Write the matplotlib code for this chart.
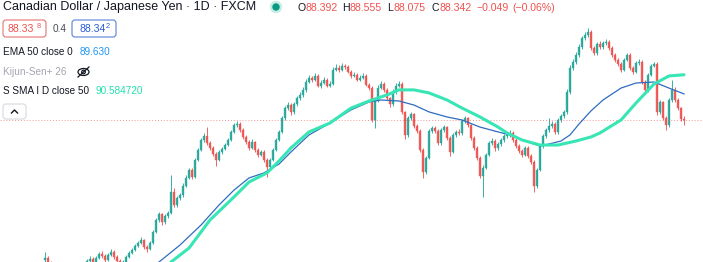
import numpy as np
import matplotlib.pyplot as plt
from matplotlib import font_manager
from matplotlib.patches import FancyBboxPatch, Ellipse, Circle

# daily CAD/JPY candles, oldest first
closes = [81.51, 81.26, 81.01, 80.82, 80.67, 80.52, 80.62, 80.47, 80.32, 80.42,
          80.57, 80.72, 80.92, 81.11, 81.36, 81.46, 81.31, 81.51, 81.71, 81.61,
          81.41, 81.66, 81.81, 81.56, 81.36, 81.11, 81.31, 81.56, 81.76, 81.91,
          82.10, 82.25, 82.40, 82.05, 81.95, 82.25, 82.80, 83.39, 83.69, 83.29,
          83.59, 83.74, 84.78, 84.13, 84.48, 84.63, 85.07, 85.47, 85.87, 85.52,
          86.36, 86.86, 87.35, 87.55, 87.20, 86.95, 86.66, 86.36, 86.76, 86.91,
          87.10, 87.35, 87.75, 88.09, 88.14, 87.85, 87.50, 87.25, 86.95, 87.25,
          86.86, 86.61, 86.76, 86.36, 86.01, 86.36, 86.86, 87.35, 87.75, 88.44,
          88.93, 89.08, 88.74, 89.13, 89.43, 89.58, 89.83, 90.22, 90.42, 90.32,
          90.52, 90.02, 90.17, 90.32, 90.02, 90.12, 90.82, 90.92, 90.82, 91.01,
          90.96, 90.72, 90.52, 90.57, 90.32, 90.42, 90.52, 90.07, 89.92, 88.34,
          89.33, 89.92, 90.12, 89.83, 89.43, 89.13, 89.73, 90.02, 90.12, 88.74,
          87.60, 88.44, 88.64, 88.04, 87.80, 86.86, 85.77, 86.46, 87.80, 87.94,
          87.80, 87.20, 87.85, 87.99, 87.45, 86.76, 87.60, 87.75, 87.70, 88.29,
          88.44, 88.09, 87.45, 86.95, 86.46, 85.57, 85.96, 86.61, 87.20, 87.30,
          86.95, 87.15, 87.35, 87.55, 87.60, 87.70, 87.35, 87.05, 86.81, 86.61,
          86.95, 86.56, 86.26, 85.07, 85.87, 87.05, 87.55, 87.85, 88.04, 88.14,
          87.75, 88.34, 88.54, 88.74, 89.73, 90.92, 91.21, 91.56, 91.95, 92.40,
          92.55, 92.70, 91.90, 91.66, 92.10, 91.95, 92.15, 92.20, 91.90, 91.56,
          91.31, 91.11, 90.82, 91.31, 91.56, 90.92, 90.72, 91.16, 91.21, 90.22,
          89.83, 90.57, 91.01, 91.11, 88.74, 89.23, 88.44, 88.09, 89.33, 89.83,
          89.33, 88.93, 88.392, 88.342]
opens = [81.40] + closes[:-1]
highs = [81.80, 81.60, 81.35, 81.10, 80.90, 80.75, 80.70, 80.70, 80.55, 80.50,
         80.65, 80.80, 81.00, 81.20, 81.45, 81.60, 81.55, 81.60, 81.80, 81.85,
         81.70, 81.75, 81.95, 81.90, 81.65, 81.45, 81.40, 81.65, 81.85, 82.00,
         82.20, 82.35, 82.55, 82.45, 82.15, 82.35, 82.90, 83.50, 83.80, 83.75,
         83.70, 83.85, 85.60, 84.98, 84.60, 84.75, 85.20, 85.60, 85.95, 85.95,
         86.45, 86.95, 87.45, 87.70, 88.00, 87.30, 87.05, 86.75, 86.85, 87.00,
         87.20, 87.45, 87.85, 88.20, 88.29, 88.25, 87.95, 87.60, 87.35, 87.40,
         87.30, 86.95, 86.85, 86.85, 86.45, 86.45, 86.95, 87.45, 87.85, 88.55,
         89.05, 89.25, 89.20, 89.25, 89.55, 89.75, 89.95, 90.35, 90.55, 90.50,
         90.65, 90.60, 90.30, 90.45, 90.40, 90.25, 90.95, 91.10, 91.05, 91.15,
         91.12, 91.05, 90.80, 90.70, 90.65, 90.55, 90.65, 90.60, 90.15, 90.00,
         89.45, 90.05, 90.25, 90.20, 89.90, 89.50, 89.85, 90.15, 90.25, 90.20,
         88.80, 88.55, 88.75, 88.70, 88.15, 87.90, 86.95, 86.55, 87.90, 88.05,
         88.05, 87.90, 87.95, 88.10, 88.05, 87.55, 87.70, 87.85, 87.90, 88.40,
         88.55, 88.50, 88.15, 87.55, 87.05, 86.55, 86.10, 86.70, 87.30, 87.45,
         87.40, 87.25, 87.45, 87.65, 87.75, 87.85, 87.80, 87.45, 87.15, 86.90,
         87.05, 87.05, 86.65, 86.35, 85.95, 87.15, 87.65, 87.95, 88.45, 88.30,
         88.25, 88.45, 88.65, 88.85, 89.85, 91.05, 91.35, 91.70, 92.10, 92.50,
         92.70, 92.90, 92.80, 92.00, 92.20, 92.25, 92.25, 92.35, 92.30, 92.00,
         91.65, 91.40, 91.20, 91.40, 91.65, 91.65, 91.00, 91.25, 91.35, 91.30,
         90.30, 90.65, 91.10, 91.20, 91.20, 89.35, 89.30, 88.55, 89.45, 90.32,
         89.95, 89.45, 89.00, 88.555]
lows = [81.30, 81.15, 80.90, 80.70, 80.55, 80.40, 80.45, 80.35, 80.20, 80.25,
        80.35, 80.50, 80.65, 80.85, 81.05, 81.30, 81.20, 81.25, 81.45, 81.50,
        81.30, 81.35, 81.60, 81.45, 81.25, 81.00, 81.05, 81.25, 81.50, 81.70,
        81.85, 82.05, 82.20, 81.95, 81.80, 81.90, 82.20, 82.75, 83.30, 83.15,
        83.20, 83.50, 83.70, 84.05, 84.05, 84.40, 84.55, 85.00, 85.40, 85.40,
        85.45, 86.30, 86.80, 87.25, 87.10, 86.85, 86.55, 86.06, 86.30, 86.65,
        86.85, 87.05, 87.30, 87.70, 88.00, 87.75, 87.40, 87.15, 86.85, 86.90,
        86.75, 86.50, 86.55, 86.25, 85.52, 85.90, 86.30, 86.80, 87.30, 87.70,
        88.35, 88.85, 88.60, 88.65, 89.05, 89.35, 89.50, 89.75, 90.15, 90.20,
        90.25, 89.95, 89.90, 90.10, 89.95, 89.95, 90.05, 90.75, 90.70, 90.75,
        90.85, 90.65, 90.40, 90.45, 90.25, 90.25, 90.35, 90.00, 89.80, 88.24,
        87.95, 89.25, 89.85, 89.75, 89.35, 88.98, 89.05, 89.65, 89.95, 88.65,
        87.40, 87.50, 88.35, 87.95, 87.70, 86.75, 85.47, 85.65, 86.40, 87.70,
        87.70, 87.10, 87.10, 87.75, 87.35, 86.56, 86.70, 87.50, 87.60, 87.60,
        88.20, 88.00, 87.35, 86.85, 86.35, 85.47, 84.53, 85.90, 86.55, 87.10,
        86.80, 86.85, 87.05, 87.25, 87.45, 87.50, 87.25, 86.95, 86.70, 86.50,
        86.55, 86.45, 86.15, 84.78, 84.95, 85.80, 86.95, 87.45, 87.75, 87.95,
        87.65, 87.65, 88.25, 88.45, 88.65, 89.65, 90.80, 91.10, 91.45, 91.85,
        92.30, 92.45, 91.80, 91.55, 91.55, 91.85, 91.85, 92.05, 91.80, 91.45,
        91.20, 91.00, 90.70, 90.75, 91.25, 90.80, 90.60, 90.65, 91.05, 90.10,
        89.73, 89.75, 90.50, 90.95, 88.60, 88.65, 88.35, 87.85, 88.00, 89.25,
        89.25, 88.85, 88.30, 88.075]

# moving averages (bar index, price)
ema_idx = [38, 45, 52, 58, 63, 68, 73, 78, 82, 88, 95, 102, 108, 112, 118, 123,
           128, 134, 139, 145, 151, 155, 159, 165, 168, 172, 175, 178, 182, 186,
           192, 197, 203, 208, 213]
ema_vals = [81.31, 82.15, 83.14, 84.13, 84.87, 85.47, 85.72, 86.16, 86.76, 87.60,
            88.19, 88.84, 89.23, 89.33, 89.28, 89.08, 88.74, 88.49, 88.34, 87.99,
            87.75, 87.60, 87.35, 87.05, 87.15, 87.30, 87.60, 88.14, 88.79, 89.33,
            89.92, 90.17, 90.22, 89.92, 89.63]
sma_idx = [42, 48, 55, 63, 68, 74, 78, 82, 88, 95, 102, 108, 114, 118, 123, 128,
           134, 139, 145, 151, 154, 159, 165, 171, 174, 177, 182, 185, 192, 197,
           203, 208, 213]
sma_vals = [81.31, 82.00, 83.39, 84.53, 85.27, 85.72, 86.31, 86.96, 87.75, 88.19,
            88.93, 89.28, 89.58, 89.83, 89.83, 89.68, 89.33, 88.93, 88.49, 87.99,
            87.70, 87.35, 87.10, 87.10, 87.20, 87.30, 87.50, 87.70, 88.34, 89.18,
            90.12, 90.52, 90.58]

last_close = 88.342
up_col = '#26a69a'
dn_col = '#ef5350'

names = {f.name for f in font_manager.fontManager.ttflist}
fam = 'Liberation Sans Narrow' if 'Liberation Sans Narrow' in names else 'Liberation Sans'
scale = 1.0 if fam == 'Liberation Sans Narrow' else 0.82

fig = plt.figure(figsize=(7.03, 2.62), dpi=100)
ax = fig.add_axes([0, 0, 1, 1])
ax.set_xlim(-15, 219.33)
ax.set_ylim(81.31, 94.28)
ax.axis('off')

o = np.array(opens)
c = np.array(closes)
x = np.arange(len(c))
cols = np.where(c >= o, up_col, dn_col)
ax.vlines(x, lows, highs, colors=cols, linewidth=0.7, alpha=0.9)
ax.bar(x, np.abs(c - o), bottom=np.minimum(o, c), width=0.62, color=cols,
       edgecolor=cols, linewidth=0.3, alpha=0.9)

ax.axhline(last_close, color=dn_col, lw=0.7, ls=(0, (1, 2)), alpha=0.6)
ax.plot(ema_idx, ema_vals, color='#2f6cc0', lw=0.9)
ax.plot(sma_idx, sma_vals, color='#38e5b4', lw=2.2, solid_capstyle='round')

# legend / header overlay in pixel coordinates
ov = fig.add_axes([0, 0, 1, 1])
ov.set_xlim(0, 703)
ov.set_ylim(262, 0)
ov.axis('off')
ov.patch.set_alpha(0)


def txt(px, py, s, size, col):
    ov.text(px, py, s, fontsize=size * scale, color=col, va='center', ha='left',
            family=fam)


txt(3, 7, 'Canadian Dollar / Japanese Yen · 1D · FXCM', 11, '#131722')
ov.add_patch(Circle((276, 7), 5.5, color='#c8ece6'))
ov.add_patch(Circle((276, 7), 3.0, color='#089981'))

hdr = [(298, 'O', '#131722'), (305, '88.392', dn_col), (342, 'H', '#131722'),
       (349, '88.555', dn_col), (387, 'L', '#131722'), (393, '88.075', dn_col),
       (432, 'C', '#131722'), (439, '88.342', dn_col), (476, '−0.049', dn_col),
       (512, '(−0.06%)', dn_col)]
for px, s, col in hdr:
    txt(px, 8, s, 9.2, col)

ov.add_patch(FancyBboxPatch((3, 20), 43, 17, boxstyle='round,pad=0,rounding_size=3',
                            fc='white', ec='#e57373', lw=0.8))
txt(8, 28.5, '88.33', 9.2, dn_col)
txt(37, 26, '8', 6.5, dn_col)
txt(53, 28.5, '0.4', 8.8, '#4a4e59')
ov.add_patch(FancyBboxPatch((72, 20), 44, 17, boxstyle='round,pad=0,rounding_size=3',
                            fc='white', ec='#5b7fd6', lw=0.8))
txt(79, 28.5, '88.34', 9.2, '#2a5bd7')
txt(106, 26, '2', 6.5, '#2a5bd7')

txt(3, 52, 'EMA 50 close 0', 8.8, '#131722')
txt(80, 52, '89.630', 8.8, '#2196f3')
txt(3, 72, 'Kijun-Sen+ 26', 8.8, '#a3a6af')
ov.add_patch(Ellipse((83.5, 72), 11, 7, fill=False, ec='#131722', lw=0.9))
ov.add_patch(Circle((83.5, 72), 1.8, fill=False, ec='#131722', lw=0.9))
ov.plot([78, 89], [77, 67], color='#131722', lw=0.9)
txt(3, 91, 'S SMA I D close 50', 8.8, '#131722')
txt(95, 91, '90.584720', 8.8, '#22e0ad')

ov.add_patch(FancyBboxPatch((3, 104), 23, 15, boxstyle='round,pad=0,rounding_size=3',
                            fc='white', ec='#d6d8de', lw=0.8))
ov.plot([11.5, 14.5, 17.5], [113, 110, 113], color='#131722', lw=1.0)

fig.savefig('out.png', dpi=100)
